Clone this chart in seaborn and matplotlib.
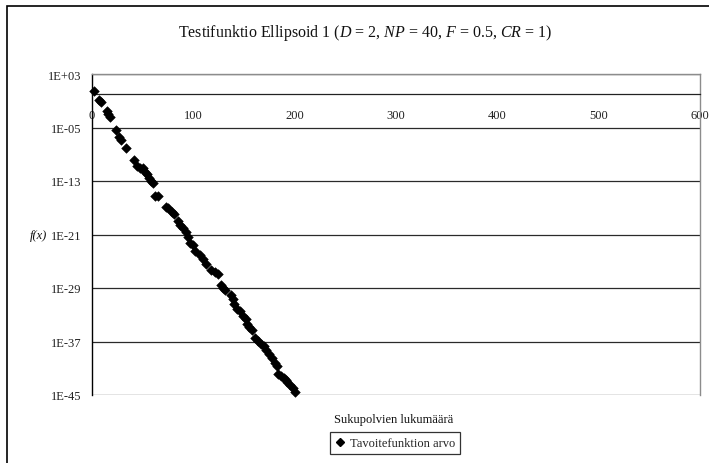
import matplotlib
matplotlib.use("Agg")
import matplotlib.pyplot as plt
from matplotlib.lines import Line2D
from matplotlib.patches import Rectangle
from matplotlib.ticker import FixedLocator, FixedFormatter, NullLocator
import seaborn as sns
import pandas as pd

# ---- data ----
generations = [2, 7, 9, 15, 16, 18, 24, 27, 29, 34,
               42, 45, 48, 51, 53, 55, 57, 59, 61, 63,
               66, 73, 75, 79, 81, 85, 87, 90, 93, 95,
               97, 100, 102, 107, 110, 113, 118, 122, 125, 128,
               130, 132, 138, 140, 141, 143, 146, 149, 152, 153,
               155, 158, 161, 164, 167, 170, 172, 175, 178, 181,
               183, 184, 187, 190, 192, 193, 196, 199, 201]
objective = [3.2e0, 1.3e-1, 6.3e-2, 2.5e-3, 1.0e-3, 3.2e-4, 4.0e-6, 4.0e-7, 1.3e-7, 7.9e-9,
             1.6e-10, 1.6e-11, 1.0e-11, 7.9e-12, 2.5e-12, 1.0e-12, 3.2e-13, 1.0e-13, 5.0e-14, 6.3e-16,
             6.3e-16, 1.3e-17, 7.9e-18, 2.0e-18, 1.0e-18, 1.0e-19, 2.5e-20, 1.0e-20, 2.5e-21, 5.0e-22,
             6.3e-23, 2.5e-23, 4.0e-24, 1.0e-24, 2.0e-25, 4.0e-26, 5.0e-27, 2.5e-27, 1.3e-27, 2.5e-29,
             1.0e-29, 5.0e-30, 1.0e-30, 2.5e-31, 4.0e-32, 6.3e-33, 3.2e-33, 6.3e-34, 2.5e-34, 4.0e-35,
             1.3e-35, 5.0e-36, 3.2e-37, 1.3e-37, 5.0e-38, 2.5e-38, 5.0e-39, 1.3e-39, 3.2e-40, 6.3e-41,
             2.5e-41, 1.6e-42, 6.3e-43, 3.2e-43, 2.0e-43, 1.0e-43, 3.2e-44, 1.0e-44, 3.2e-45]

x_ticks = [0, 100, 200, 300, 400, 500, 600]
y_ticks = [1e3, 1e-5, 1e-13, 1e-21, 1e-29, 1e-37, 1e-45]
y_tick_labels = ["1E+03", "1E-05", "1E-13", "1E-21", "1E-29", "1E-37", "1E-45"]

title = "Testifunktio Ellipsoid 1 ($D$ = 2, $NP$ = 40, $F$ = 0.5, $CR$ = 1)"
x_label = "Sukupolvien lukumäärä"
y_label = "f(x)"
legend_label = "Tavoitefunktion arvo"

df = pd.DataFrame({"gen": generations, "fx": objective})

# ---- style ----
sns.set_style("white")
plt.rcParams["font.family"] = ["Liberation Serif", "DejaVu Serif"]
plt.rcParams["mathtext.fontset"] = "custom"
plt.rcParams["mathtext.rm"] = "Liberation Serif"
plt.rcParams["mathtext.it"] = "Liberation Serif:italic"

W, H = 709, 464
fig = plt.figure(figsize=(W / 100, H / 100), dpi=100)
fig.patch.set_facecolor("white")

left, right, top, bottom = 91.5, 700, 75, 396
ax = fig.add_axes([left / W, 1 - bottom / H, (right - left) / W, (bottom - top) / H])
ax.set_facecolor("white")

sns.scatterplot(data=df, x="gen", y="fx", marker="D", color="black",
                edgecolor="black", linewidth=0.4, s=24, ax=ax, legend=False,
                zorder=5, clip_on=False)

ax.set_yscale("log")
ax.set_ylim(1e-45, 1e3)
ax.set_xlim(0, 600)

ax.yaxis.set_major_locator(FixedLocator(y_ticks))
ax.yaxis.set_major_formatter(FixedFormatter(y_tick_labels))
ax.yaxis.set_minor_locator(NullLocator())
ax.xaxis.set_major_locator(FixedLocator(x_ticks))
ax.xaxis.set_minor_locator(NullLocator())

ax.grid(axis="y", color="#2a2a2a", linewidth=0.9)
ax.grid(axis="x", visible=False)

# x axis crosses at f(x) = 1
ax.spines["bottom"].set_position(("data", 1))
ax.spines["bottom"].set_color("#222222")
ax.spines["bottom"].set_linewidth(0.9)
ax.spines["left"].set_color("black")
ax.spines["left"].set_linewidth(1.0)
for s in ("top", "right"):
    ax.spines[s].set_color("#8c8c8c")
    ax.spines[s].set_linewidth(1.0)
    ax.spines[s].set_visible(True)

ax.tick_params(axis="y", which="major", direction="out", length=3, width=0.9,
               color="black", labelsize=9, pad=4, labelcolor="#222222")
ax.tick_params(axis="x", which="major", direction="out", length=3, width=0.9,
               color="black", labelsize=9, pad=8, labelcolor="#222222")
ax.set_xlabel("")
ax.set_ylabel("")

fig.text(365 / W, 1 - 33 / H, title, ha="center", va="center", fontsize=11.5, color="#111111")
fig.text(394 / W, 1 - 420 / H, x_label, ha="center", va="center", fontsize=9, color="#111111")
fig.text(38 / W, 1 - 236 / H, y_label, ha="center", va="center", fontsize=9,
         fontstyle="italic", color="#111111")

handle = Line2D([], [], marker="D", ls="", color="black", markersize=3.6)
leg = fig.legend(handles=[handle], labels=[legend_label], loc="center",
                 bbox_to_anchor=(395 / W, 1 - 444 / H), frameon=True, fancybox=False,
                 edgecolor="black", fontsize=9, handlelength=0.8, handletextpad=0.4,
                 borderpad=0.4, borderaxespad=0)
leg.get_frame().set_linewidth(0.9)

fig.add_artist(Rectangle((7 / W, -0.05), (W + 20) / W, 1 - 7 / H + 0.05,
                         transform=fig.transFigure, fill=False, edgecolor="black",
                         linewidth=1.2))

fig.savefig("out.png", dpi=100, facecolor="white")
